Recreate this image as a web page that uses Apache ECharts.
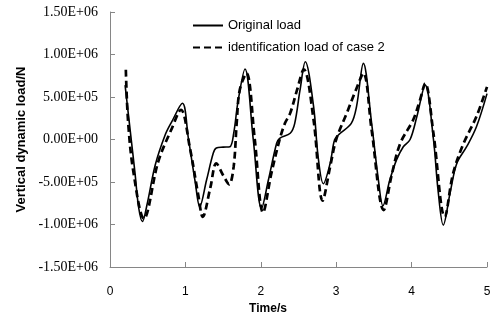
<!DOCTYPE html>
<html>
<head>
<meta charset="utf-8">
<script src="https://cdn.jsdelivr.net/npm/echarts@6/dist/echarts.min.js"></script>
<style>
  html, body { margin: 0; padding: 0; background: #fff; }
  #chart { width: 497px; height: 322px; }
</style>
</head>
<body>
<div id="chart"></div>
<script>
// 原始载荷 (时间 s, 载荷 N)
const timeOrig = [0.20, 0.27, 0.33, 0.38, 0.43, 0.49, 0.60, 0.73, 0.82, 0.96, 1.04, 1.13, 1.19, 1.28, 1.37, 1.41, 1.50, 1.59, 1.64, 1.70, 1.79, 1.90, 2.01, 2.10, 2.21, 2.25, 2.39, 2.45, 2.52, 2.59, 2.70, 2.76, 2.83, 2.92, 2.98, 3.05, 3.20, 3.27, 3.36, 3.47, 3.56, 3.62, 3.71, 3.80, 3.89, 3.98, 4.07, 4.18, 4.29, 4.35, 4.42, 4.51, 4.60, 4.73, 4.86, 5.00]
const loadOrig = [6.4e5, 0.9e5, -3.8e5, -8.0e5, -9.65e5, -7.7e5, -3.0e5, 0.5e5, 2.1e5, 4.26e5, 0.1e5, -5.0e5, -7.9e5, -4.8e5, -1.6e5, -1.0e5, -0.9e5, -0.85e5, 0.7e5, 4.6e5, 8.3e5, 0, -8.1e5, -4.8e5, -0.45e5, 0.14e5, 0.73e5, 1.9e5, 5.8e5, 9.15e5, 3.9e5, -2.0e5, -5.2e5, -2.8e5, 0, 0.7e5, 1.9e5, 3.9e5, 8.96e5, 1.9e5, -4.8e5, -7.8e5, -4.8e5, -2.4e5, -0.85e5, 0, 2.7e5, 6.4e5, 0, -5.9e5, -10.06e5, -6.3e5, -2.8e5, -0.85e5, 1.5e5, 5.4e5]

// 工况2识别载荷
const timeIdent = [0.21, 0.24, 0.31, 0.45, 0.64, 0.82, 0.94, 1.06, 1.17, 1.23, 1.33, 1.41, 1.50, 1.58, 1.64, 1.68, 1.72, 1.81, 1.92, 2.03, 2.14, 2.25, 2.32, 2.39, 2.48, 2.57, 2.70, 2.82, 2.92, 3.00, 3.14, 3.26, 3.36, 3.47, 3.63, 3.74, 3.85, 4.02, 4.11, 4.18, 4.29, 4.44, 4.55, 4.69, 4.86, 5.00]
const loadIdent = [8.2e5, 2.1e5, -3.8e5, -9.3e5, -2.6e5, 1.3e5, 3.5e5, -1.0e5, -6.5e5, -9.1e5, -5.7e5, -2.8e5, -4.2e5, -5.27e5, -3.2e5, 1.9e5, 5.8e5, 7.8e5, 0, -8.6e5, -4.0e5, 0, 1.9e5, 3.1e5, 5.8e5, 8.26e5, 2.3e5, -7.2e5, -3.2e5, 0, 3.1e5, 5.8e5, 7.8e5, 1.1e5, -8.3e5, -4.0e5, -0.45e5, 2.3e5, 4.6e5, 6.6e5, 0.7e5, -9.1e5, -4.0e5, -0.45e5, 2.7e5, 6.2e5]

const yMin = -1.5e6
const yMax = 1.5e6
const yStep = 5e5

// 科学计数法标签, 例如 1.50E+06
function sciLabel (v) {
  if (v === 0) return '0.00E+00'
  const s = v.toExponential(2).split('e')
  const exp = parseInt(s[1], 10)
  const sign = exp < 0 ? '-' : '+'
  const e = String(Math.abs(exp)).padStart(2, '0')
  return s[0] + 'E' + sign + e
}

const toPairs = (ts, vs) => ts.map((t, i) => [t, vs[i]])

const chart = echarts.init(document.getElementById('chart'))
const axisGray = '#868686'
chart.setOption({
  animation: false,
  color: ['#000', '#000'],
  grid: { left: 110, right: 10, top: 12, bottom: 55 },
  legend: {
    orient: 'vertical',
    left: 187,
    top: 14,
    itemWidth: 30,
    itemHeight: 10,
    itemGap: 9,
    itemStyle: { opacity: 0 },
    textStyle: { fontFamily: 'Liberation Sans', fontSize: 13, color: '#000' },
    data: ['Original load', 'identification load of case 2']
  },
  xAxis: {
    type: 'value',
    min: 0,
    max: 5,
    interval: 1,
    name: 'Time/s',
    nameLocation: 'middle',
    nameGap: 33,
    nameTextStyle: { fontFamily: 'Liberation Sans', fontWeight: 'bold', fontSize: 12, color: '#000', padding: [0, 61, 0, 0] },
    axisLine: { onZero: false, lineStyle: { color: axisGray, width: 1 } },
    axisTick: { inside: true, length: 5, lineStyle: { color: axisGray } },
    axisLabel: { margin: 19, fontFamily: 'Liberation Sans', fontSize: 12, color: '#000' },
    splitLine: { show: false }
  },
  yAxis: {
    type: 'value',
    min: yMin,
    max: yMax,
    interval: yStep,
    name: 'Vertical dynamic load/N',
    nameLocation: 'middle',
    nameGap: 78,
    nameTextStyle: { fontFamily: 'Liberation Sans', fontWeight: 'bold', fontSize: 13, color: '#000' },
    axisLine: { show: true, lineStyle: { color: axisGray, width: 1 } },
    axisTick: { show: true, inside: true, length: 5, lineStyle: { color: axisGray } },
    axisLabel: { margin: 12, fontFamily: 'Liberation Serif', fontSize: 14, color: '#000', formatter: sciLabel },
    splitLine: { show: false }
  },
  series: [
    {
      name: 'Original load',
      type: 'line',
      data: toPairs(timeOrig, loadOrig),
      smooth: 0.35,
      symbol: 'none',
      itemStyle: { color: '#000' },
      lineStyle: { color: '#000', width: 1.6 },
      z: 3
    },
    {
      name: 'identification load of case 2',
      type: 'line',
      data: toPairs(timeIdent, loadIdent),
      smooth: 0.35,
      symbol: 'none',
      itemStyle: { color: '#000' },
      lineStyle: { color: '#000', width: 2.7, type: [7, 4] },
      z: 2
    }
  ]
})
</script>
</body>
</html>
